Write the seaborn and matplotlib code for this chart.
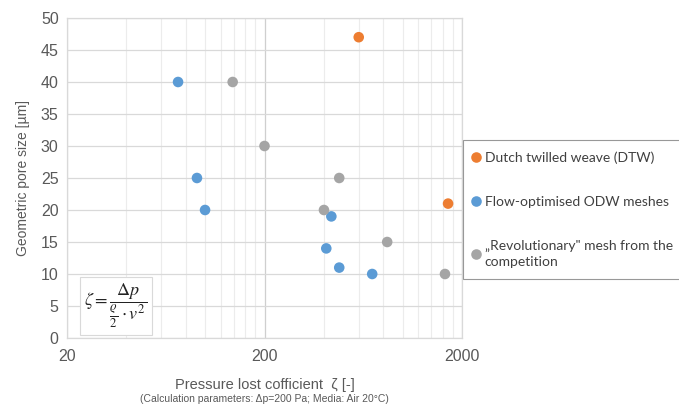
import matplotlib.pyplot as plt
import numpy as np
import pandas as pd
import seaborn as sns
from matplotlib.ticker import FixedLocator, NullFormatter

# data
dtw_zeta = [600, 1700]
dtw_pore = [47, 21]

odw_zeta = [73, 91, 100, 436, 411, 478, 702]
odw_pore = [40, 25, 20, 19, 14, 11, 10]

comp_zeta = [138, 200, 478, 400, 836, 1640]
comp_pore = [40, 30, 25, 20, 15, 10]

series_names = ["Dutch twilled weave (DTW)",
                "Flow-optimised ODW meshes",
                "\u201eRevolutionary\" mesh from the\ncompetition"]
series_colors = ["#ED7D31", "#5B9BD5", "#A5A5A5"]

x_ticks = [20, 200, 2000]
y_ticks = [0, 5, 10, 15, 20, 25, 30, 35, 40, 45, 50]

df = pd.concat([
    pd.DataFrame({"zeta": dtw_zeta, "pore": dtw_pore, "series": series_names[0]}),
    pd.DataFrame({"zeta": odw_zeta, "pore": odw_pore, "series": series_names[1]}),
    pd.DataFrame({"zeta": comp_zeta, "pore": comp_pore, "series": series_names[2]}),
], ignore_index=True)

sns.set_theme(style="white")
plt.rcParams['font.family'] = ['Liberation Sans', 'DejaVu Sans']
plt.rcParams['mathtext.fontset'] = 'stix'

fig = plt.figure(figsize=(6.79, 4.09), dpi=100)
ax = fig.add_axes([67 / 679, 71 / 409, 395 / 679, 320 / 409])

sns.scatterplot(data=df, x="zeta", y="pore", hue="series",
                palette=dict(zip(series_names, series_colors)),
                s=58, edgecolor="none", ax=ax, zorder=3)

ax.set_xscale('log')
ax.set_xlim(20, 2000)
ax.set_ylim(0, 50)
ax.set_xticks(x_ticks)
ax.set_xticklabels([str(t) for t in x_ticks])
minor = [v for v in range(40, 200, 20)] + [v for v in range(400, 2000, 200)]
ax.xaxis.set_minor_locator(FixedLocator(minor))
ax.xaxis.set_minor_formatter(NullFormatter())
ax.set_yticks(y_ticks)

ax.grid(True, which='major', axis='y', color='#d9d9d9', lw=0.9)
ax.grid(True, which='major', axis='x', color='#cfcfcf', lw=0.9)
ax.grid(True, which='minor', axis='x', color='#ececec', lw=0.8)
ax.set_axisbelow(True)
for sp in ax.spines.values():
    sp.set_color('#d9d9d9')
    sp.set_linewidth(0.9)

ax.tick_params(axis='both', length=0, labelsize=11.5, colors='#595959', pad=6)
ax.tick_params(axis='x', pad=8)

ax.set_ylabel("Geometric pore size [µm]", fontsize=10, color='#595959', labelpad=8)
ax.set_xlabel("Pressure lost cofficient  \u03b6 [-]", fontsize=10.5, color='#595959', labelpad=10)
fig.text(264 / 679, 5 / 409, "(Calculation parameters: \u0394p=200 Pa; Media: Air 20\u00b0C)",
         ha='center', va='bottom', fontsize=7.5, color='#595959')

# formula box
ax.text(0.124, 0.1, r"$\zeta = \dfrac{\Delta p}{\frac{\varrho}{2}\cdot v^2}$",
        transform=ax.transAxes, ha='center', va='center', fontsize=13, color='#222222',
        bbox=dict(boxstyle='square,pad=0.25', fc='white', ec='#d9d9d9', lw=0.8))

handles, labels = ax.get_legend_handles_labels()
ax.get_legend().remove()
leg = fig.legend(handles, labels, loc='upper left', bbox_to_anchor=(463 / 679, 269 / 409),
                 borderaxespad=0, frameon=True, fancybox=False, labelspacing=2.3,
                 handletextpad=0.45, handlelength=0.3, borderpad=0.8,
                 prop={'family': ['Lato', 'DejaVu Sans'], 'size': 10})
leg.get_frame().set_edgecolor('#7f7f7f')
leg.get_frame().set_linewidth(0.8)
for t in leg.get_texts():
    t.set_color('#404040')
    t.set_linespacing(1.45)

fig.savefig("out.png", dpi=100)
